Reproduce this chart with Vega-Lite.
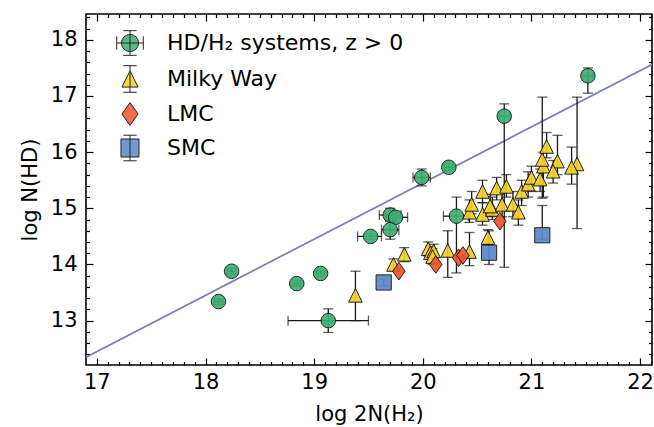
{
  "$schema": "https://vega.github.io/schema/vega-lite/v6.json",
  "width": 566,
  "height": 351,
  "autosize": {"type": "none"},
  "padding": {"left": 86, "top": 14, "right": 2, "bottom": 62},
  "background": "white",
  "config": {
    "view": {"stroke": "black", "strokeWidth": 1.6},
    "font": "DejaVu Sans"
  },
  "datasets": {
    "dh": [{"x": 16.9, "y": 12.35}, {"x": 22.11, "y": 17.56}],
    "pts": [
      {"g": "HD", "x": 18.12, "y": 13.34, "xlo": 18.08, "xhi": 18.16, "ylo": 13.29, "yhi": 13.39},
      {"g": "HD", "x": 18.24, "y": 13.88, "xlo": 18.2, "xhi": 18.28, "ylo": 13.83, "yhi": 13.93},
      {"g": "HD", "x": 18.84, "y": 13.66, "xlo": 18.8, "xhi": 18.88, "ylo": 13.61, "yhi": 13.71},
      {"g": "HD", "x": 19.06, "y": 13.84, "xlo": 19.02, "xhi": 19.1, "ylo": 13.79, "yhi": 13.89},
      {"g": "HD", "x": 19.13, "y": 13.0, "xlo": 18.76, "xhi": 19.5, "ylo": 12.79, "yhi": 13.21},
      {"g": "HD", "x": 19.52, "y": 14.5, "xlo": 19.4, "xhi": 19.62, "ylo": 14.45, "yhi": 14.55},
      {"g": "HD", "x": 19.7, "y": 14.88, "xlo": 19.6, "xhi": 19.8, "ylo": 14.78, "yhi": 15.0},
      {"g": "HD", "x": 19.75, "y": 14.84, "xlo": 19.66, "xhi": 19.86, "ylo": 14.75, "yhi": 14.93},
      {"g": "HD", "x": 19.7, "y": 14.62, "xlo": 19.62, "xhi": 19.78, "ylo": 14.45, "yhi": 14.8},
      {"g": "HD", "x": 19.99, "y": 15.55, "xlo": 19.91, "xhi": 20.07, "ylo": 15.4, "yhi": 15.7},
      {"g": "HD", "x": 20.24, "y": 15.73, "xlo": 20.2, "xhi": 20.28, "ylo": 15.68, "yhi": 15.78},
      {"g": "HD", "x": 20.31, "y": 14.86, "xlo": 20.19, "xhi": 20.42, "ylo": 13.85, "yhi": 15.2},
      {"g": "HD", "x": 20.75, "y": 16.64, "xlo": 20.7, "xhi": 20.8, "ylo": 13.95, "yhi": 16.86},
      {"g": "HD", "x": 21.52, "y": 17.36, "xlo": 21.47, "xhi": 21.57, "ylo": 17.05, "yhi": 17.5},
      {"g": "MW", "x": 19.38, "y": 13.45, "ylo": 13.0, "yhi": 13.88},
      {"g": "MW", "x": 19.73, "y": 14.0, "ylo": 13.9, "yhi": 14.1},
      {"g": "MW", "x": 19.83, "y": 14.18, "ylo": 14.05, "yhi": 14.3},
      {"g": "MW", "x": 20.05, "y": 14.28, "ylo": 14.15, "yhi": 14.4},
      {"g": "MW", "x": 20.07, "y": 14.21, "ylo": 14.1, "yhi": 14.32},
      {"g": "MW", "x": 20.1, "y": 14.24, "ylo": 14.12, "yhi": 14.36},
      {"g": "MW", "x": 20.09, "y": 14.14, "ylo": 14.0, "yhi": 14.28},
      {"g": "MW", "x": 20.23, "y": 14.25, "ylo": 13.77, "yhi": 14.6},
      {"g": "MW", "x": 20.43, "y": 14.23, "ylo": 13.98, "yhi": 14.57},
      {"g": "MW", "x": 20.6, "y": 14.48, "ylo": 14.35, "yhi": 14.62},
      {"g": "MW", "x": 20.43, "y": 14.93, "ylo": 14.75, "yhi": 15.15},
      {"g": "MW", "x": 20.55, "y": 14.89, "ylo": 14.7, "yhi": 15.1},
      {"g": "MW", "x": 20.64, "y": 14.98, "ylo": 14.8, "yhi": 15.2},
      {"g": "MW", "x": 20.45, "y": 15.07, "ylo": 14.9, "yhi": 15.3},
      {"g": "MW", "x": 20.55, "y": 15.3, "ylo": 15.1, "yhi": 15.5},
      {"g": "MW", "x": 20.68, "y": 15.36, "ylo": 15.15, "yhi": 15.55},
      {"g": "MW", "x": 20.77, "y": 15.39, "ylo": 15.2, "yhi": 15.6},
      {"g": "MW", "x": 20.62, "y": 15.04, "ylo": 14.85, "yhi": 15.25},
      {"g": "MW", "x": 20.73, "y": 15.07, "ylo": 14.85, "yhi": 15.3},
      {"g": "MW", "x": 20.83, "y": 15.07, "ylo": 14.85, "yhi": 15.3},
      {"g": "MW", "x": 20.88, "y": 14.93, "ylo": 14.7, "yhi": 15.15},
      {"g": "MW", "x": 20.91, "y": 15.3, "ylo": 15.05, "yhi": 15.5},
      {"g": "MW", "x": 20.97, "y": 15.43, "ylo": 15.2, "yhi": 15.65},
      {"g": "MW", "x": 21.0, "y": 15.55, "ylo": 15.3, "yhi": 15.75},
      {"g": "MW", "x": 21.08, "y": 15.52, "ylo": 15.3, "yhi": 15.7},
      {"g": "MW", "x": 21.11, "y": 15.75, "ylo": 15.2, "yhi": 16.0},
      {"g": "MW", "x": 21.1, "y": 15.87, "ylo": 15.18, "yhi": 16.98},
      {"g": "MW", "x": 21.14, "y": 16.1, "ylo": 15.9, "yhi": 16.35},
      {"g": "MW", "x": 21.24, "y": 15.84, "ylo": 15.6, "yhi": 16.3},
      {"g": "MW", "x": 21.2, "y": 15.66, "ylo": 15.45, "yhi": 15.85},
      {"g": "MW", "x": 21.42, "y": 15.79, "ylo": 14.64, "yhi": 16.98},
      {"g": "MW", "x": 21.37, "y": 15.73, "ylo": 15.43, "yhi": 16.09},
      {"g": "LMC", "x": 19.78, "y": 13.88},
      {"g": "LMC", "x": 20.12, "y": 14.0},
      {"g": "LMC", "x": 20.33, "y": 14.12},
      {"g": "LMC", "x": 20.37, "y": 14.16},
      {"g": "LMC", "x": 20.71, "y": 14.77},
      {"g": "SMC", "x": 19.64, "y": 13.68, "ylo": 13.62, "yhi": 13.74},
      {"g": "SMC", "x": 20.61, "y": 14.21, "ylo": 14.0, "yhi": 14.6},
      {"g": "SMC", "x": 21.1, "y": 14.52, "ylo": 14.45, "yhi": 15.05}
    ]
  },
  "layer": [
    {
      "data": {"name": "dh"},
      "mark": {"type": "line", "color": "#7d7db2", "strokeWidth": 1.7, "clip": true},
      "encoding": {
        "x": {
          "field": "x", "type": "quantitative",
          "scale": {"domain": [16.9, 22.11], "nice": false, "zero": false},
          "axis": {
            "orient": "bottom",
            "values": [17,17.1,17.2,17.3,17.4,17.5,17.6,17.7,17.8,17.9,18,18.1,18.2,18.3,18.4,18.5,18.6,18.7,18.8,18.9,19,19.1,19.2,19.3,19.4,19.5,19.6,19.7,19.8,19.9,20,20.1,20.2,20.3,20.4,20.5,20.6,20.7,20.8,20.9,21,21.1,21.2,21.3,21.4,21.5,21.6,21.7,21.8,21.9,22,22.1],
            "labelExpr": "abs(datum.value - round(datum.value)) < 0.01 ? format(datum.value, 'd') : ''",
            "tickSize": {"condition": {"test": "abs(datum.value - round(datum.value)) < 0.01", "value": -7}, "value": -3.5},
            "tickWidth": 1.2, "tickColor": "black",
            "domain": false, "grid": false,
            "labelFontSize": 21, "labelColor": "black", "labelPadding": 13,
            "labelOverlap": false, "labelFlush": false, "labelBound": false,
            "title": "log 2N(H₂)", "titleFontSize": 21, "titleFontWeight": "normal", "titleColor": "black", "titlePadding": 8
          }
        },
        "y": {
          "field": "y", "type": "quantitative",
          "scale": {"domain": [12.21, 18.46], "nice": false, "zero": false},
          "axis": {
            "orient": "left",
            "values": [12.4,12.6,12.8,13,13.2,13.4,13.6,13.8,14,14.2,14.4,14.6,14.8,15,15.2,15.4,15.6,15.8,16,16.2,16.4,16.6,16.8,17,17.2,17.4,17.6,17.8,18,18.2,18.4],
            "labelExpr": "abs(datum.value - round(datum.value)) < 0.01 ? format(datum.value, 'd') : ''",
            "tickSize": {"condition": {"test": "abs(datum.value - round(datum.value)) < 0.01", "value": -7}, "value": -3.5},
            "tickWidth": 1.2, "tickColor": "black",
            "domain": false, "grid": false,
            "labelFontSize": 21, "labelColor": "black", "labelPadding": 16,
            "labelOverlap": false, "labelFlush": false, "labelBound": false,
            "title": "log N(HD)", "titleFontSize": 21, "titleFontWeight": "normal", "titleColor": "black", "titlePadding": 10
          }
        }
      }
    },
    {
      "data": {"name": "pts"},
      "transform": [{"filter": "isValid(datum.ylo)"}],
      "mark": {"type": "errorbar", "ticks": true, "size": 10, "thickness": 1.3, "color": "#1a1a1a"},
      "encoding": {
        "x": {"field": "x", "type": "quantitative", "axis": null},
        "y": {"field": "ylo", "type": "quantitative", "axis": null},
        "y2": {"field": "yhi"}
      }
    },
    {
      "data": {"name": "pts"},
      "transform": [{"filter": "isValid(datum.xlo)"}],
      "mark": {"type": "errorbar", "ticks": true, "size": 10, "thickness": 1.3, "color": "#1a1a1a"},
      "encoding": {
        "y": {"field": "y", "type": "quantitative", "axis": null},
        "x": {"field": "xlo", "type": "quantitative", "axis": null},
        "x2": {"field": "xhi"}
      }
    },
    {
      "data": {"name": "pts"},
      "mark": {"type": "point", "filled": true, "size": 256, "stroke": "#111111", "strokeWidth": 1, "opacity": 0.92},
      "encoding": {
        "x": {"field": "x", "type": "quantitative", "axis": null},
        "y": {"field": "y", "type": "quantitative", "axis": null},
        "shape": {
          "field": "g", "type": "nominal", "legend": null,
          "scale": {
            "domain": ["HD", "MW", "LMC", "SMC"],
            "range": [
              "M0.9,0A0.9,0.9,0,1,1,-0.9,0A0.9,0.9,0,1,1,0.9,0Z",
              "M0,-0.85L0.85,0.85L-0.85,0.85Z",
              "M0,-1.1L0.78,0L0,1.1L-0.78,0Z",
              "M-0.95,-0.95H0.95V0.95H-0.95Z"
            ]
          }
        },
        "fill": {
          "field": "g", "type": "nominal", "legend": null,
          "scale": {"domain": ["HD", "MW", "LMC", "SMC"], "range": ["#3daf72", "#f3d025", "#f0542a", "#5b88c8"]}
        }
      }
    },
    {
      "data": {"name": "pts"},
      "transform": [{"filter": "false"}],
      "mark": {"type": "point", "filled": true, "size": 256, "stroke": "#111111", "strokeWidth": 1, "opacity": 0.92},
      "encoding": {
        "x": {
          "field": "x", "type": "quantitative",
          "axis": {
            "orient": "top",
            "values": [17,17.1,17.2,17.3,17.4,17.5,17.6,17.7,17.8,17.9,18,18.1,18.2,18.3,18.4,18.5,18.6,18.7,18.8,18.9,19,19.1,19.2,19.3,19.4,19.5,19.6,19.7,19.8,19.9,20,20.1,20.2,20.3,20.4,20.5,20.6,20.7,20.8,20.9,21,21.1,21.2,21.3,21.4,21.5,21.6,21.7,21.8,21.9,22,22.1],
            "labels": false,
            "tickSize": {"condition": {"test": "abs(datum.value - round(datum.value)) < 0.01", "value": -7}, "value": -3.5},
            "tickWidth": 1.2, "tickColor": "black",
            "domain": false, "grid": false, "title": null
          }
        },
        "y": {
          "field": "y", "type": "quantitative",
          "axis": {
            "orient": "right",
            "values": [12.4,12.6,12.8,13,13.2,13.4,13.6,13.8,14,14.2,14.4,14.6,14.8,15,15.2,15.4,15.6,15.8,16,16.2,16.4,16.6,16.8,17,17.2,17.4,17.6,17.8,18,18.2,18.4],
            "labels": false,
            "tickSize": {"condition": {"test": "abs(datum.value - round(datum.value)) < 0.01", "value": -7}, "value": -3.5},
            "tickWidth": 1.2, "tickColor": "black",
            "domain": false, "grid": false, "title": null
          }
        },
        "shape": {
          "field": "g", "type": "nominal",
          "scale": {
            "domain": ["HD", "MW", "LMC", "SMC"],
            "range": [
              "M0.9,0A0.9,0.9,0,1,1,-0.9,0A0.9,0.9,0,1,1,0.9,0ZM-1.4,0H1.4M-1.4,-0.7V0.7M1.4,-0.7V0.7M0,-1.3V1.3M-0.7,-1.3H0.7M-0.7,1.3H0.7",
              "M0,-1.4V1.4M-0.7,-1.4H0.7M-0.7,1.4H0.7M0,-0.85L0.85,0.85L-0.85,0.85Z",
              "M0,-1.2L0.85,0L0,1.2L-0.85,0Z",
              "M0,-1.35V1.35M-0.7,-1.35H0.7M-0.7,1.35H0.7M-0.95,-0.95H0.95V0.95H-0.95Z"
            ]
          },
          "legend": {
            "orient": "none", "legendX": 33, "legendY": 18, "title": null, "padding": 0,
            "labelExpr": "datum.label == 'HD' ? 'HD/H₂ systems, z > 0' : datum.label == 'MW' ? 'Milky Way' : datum.label",
            "labelFontSize": 22, "labelColor": "black", "labelFont": "DejaVu Sans", "labelLimit": 0,
            "symbolSize": 360, "symbolStrokeWidth": 1, "rowPadding": 5, "labelOffset": 26
          }
        },
        "fill": {
          "field": "g", "type": "nominal",
          "scale": {"domain": ["HD", "MW", "LMC", "SMC"], "range": ["#3daf72", "#f3d025", "#f0542a", "#5b88c8"]},
          "legend": {
            "orient": "none", "legendX": 33, "legendY": 18, "title": null, "padding": 0,
            "labelExpr": "datum.label == 'HD' ? 'HD/H₂ systems, z > 0' : datum.label == 'MW' ? 'Milky Way' : datum.label",
            "labelFontSize": 22, "labelColor": "black", "labelFont": "DejaVu Sans", "labelLimit": 0,
            "symbolSize": 360, "symbolStrokeWidth": 1, "rowPadding": 5, "labelOffset": 26
          }
        }
      }
    }
  ],
  "resolve": {
    "scale": {"shape": "independent", "fill": "independent"},
    "axis": {"x": "independent", "y": "independent"}
  }
}
